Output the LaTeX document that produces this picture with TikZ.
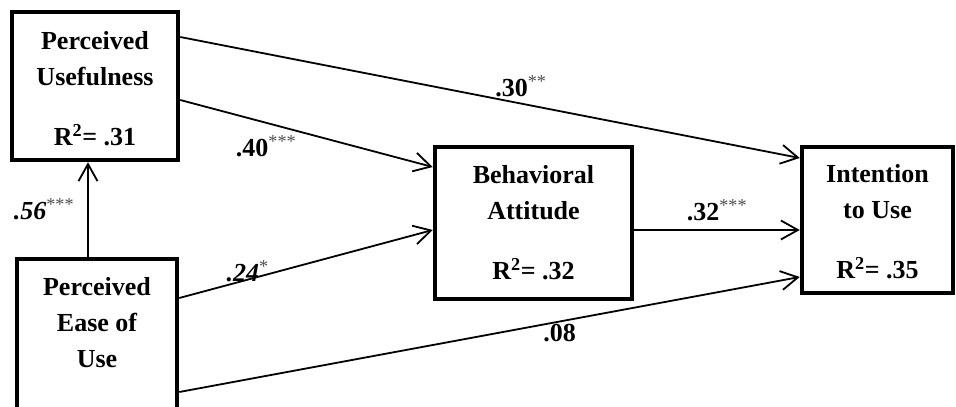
\documentclass[tikz,border=0pt]{standalone}
\usepackage{fontspec}
\setmainfont{Liberation Serif}
\usetikzlibrary{arrows.meta, positioning}

\newcommand\sig[1]{\textsuperscript{\mdseries\upshape\color{black!70}#1}}

\begin{document}
\begin{tikzpicture}[
    x=1pt, y=-1pt,
    construct/.style={rectangle, draw, line width=4.5pt, align=center, inner sep=0pt, font=\fontsize{26}{36}\selectfont\bfseries},
    arrow/.style={line width=1.8pt, -{Straight Barb[length=17pt, width=19pt]}},
    coef/.style={inner sep=2pt, font=\fontsize{26}{30}\selectfont\bfseries},
    coefit/.style={coef, font=\fontsize{26}{30}\selectfont\bfseries\itshape}
]
\useasboundingbox (0,0) rectangle (956,407);

\node[construct, minimum width=166pt, minimum height=148pt] (pu) at (95,86) {\rule{0pt}{24pt}Perceived\\Usefulness\\[24pt]R\textsuperscript{2}= .31};
\node[construct, minimum width=160pt, minimum height=170pt] (peou) at (97,344) {Perceived\\Ease of\\Use\\[8pt]\mbox{}};
\node[construct, minimum width=197pt, minimum height=152pt] (ba) at (533.5,223) {Behavioral\\Attitude\\[24pt]R\textsuperscript{2}= .32};
\node[construct, minimum width=151pt, minimum height=146pt] (iu) at (877.5,220) {\rule{0pt}{22pt}Intention\\to Use\\[24pt]R\textsuperscript{2}= .35};

\draw[arrow] ([xshift=-9pt]peou.north) -- node[coefit, left=11pt] (b56) {.56\sig{***}} ([xshift=-9pt]peou.north |- pu.south);

\draw[arrow] ([yshift=49pt]pu.east) -- node[coef, pos=0.55, above=4pt] (b30) {.30\sig{**}} ([yshift=62pt]iu.west);
\draw[arrow] ([yshift=-14pt]pu.east) -- node[coef, pos=0.34, below=10pt] (b40) {.40\sig{***}} ([yshift=56pt]ba.west);

\draw[arrow] ([yshift=46pt]peou.east) -- node[coefit, pos=0.27, anchor=base, yshift=-2pt] (b24) {.24\sig{*}} ([yshift=-7pt]ba.west);
\draw[arrow] ([yshift=-48pt]peou.east) -- node[coef, pos=0.613, below=0pt] (b08) {.08} ([yshift=-57pt]iu.west);

\draw[arrow] ([yshift=-7pt]ba.east) -- node[coef, above=6pt] (b32) {.32\sig{***}} ([yshift=-7pt]ba.east -| iu.west);

\end{tikzpicture}
\end{document}
